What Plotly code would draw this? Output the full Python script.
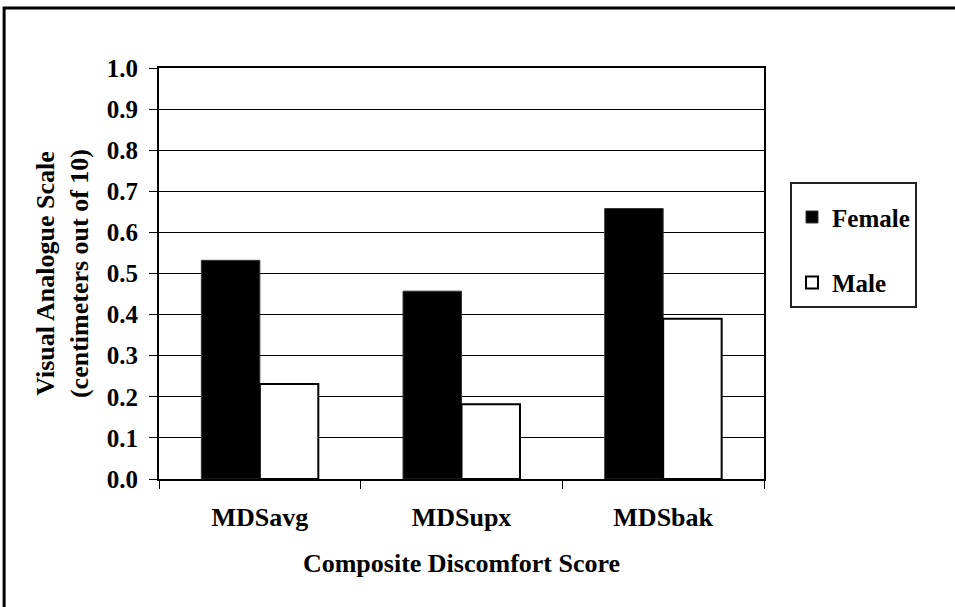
import plotly.graph_objects as go

categories = ["MDSavg", "MDSupx", "MDSbak"]
female = [0.532, 0.457, 0.658]
male = [0.231, 0.182, 0.390]
y_ticks = [0.0, 0.1, 0.2, 0.3, 0.4, 0.5, 0.6, 0.7, 0.8, 0.9, 1.0]

FONT = "Times New Roman, Liberation Serif, DejaVu Serif, serif"

fig = go.Figure()
fig.add_trace(go.Bar(x=categories, y=female, name="Female", legendgroup="f",
                     marker=dict(color="black", line=dict(color="#333", width=1))))
fig.add_trace(go.Bar(x=categories, y=male, name="Male", legendgroup="m",
                     marker=dict(color="white", line=dict(color="black", width=2))))

fig.update_layout(
    width=955, height=607,
    margin=dict(l=159, r=191, t=68, b=128),
    paper_bgcolor="white", plot_bgcolor="white",
    barmode="group", bargap=0.42, bargroupgap=0,
    font=dict(family=FONT, color="black", size=26, weight="bold"),
    showlegend=True,
    legend=dict(x=1.043, y=0.723, xanchor="left", yanchor="top",
                bordercolor="#222", borderwidth=2, bgcolor="white",
                font=dict(family=FONT, size=25, weight="bold", color="black"),
                title=dict(text=" ", font=dict(size=8)),
                tracegroupgap=30, itemwidth=30),
    shapes=[dict(type="rect", xref="paper", yref="paper",
                 x0=-0.256, x1=2, y0=1.146, y1=-1,
                 line=dict(color="black", width=3), fillcolor="rgba(0,0,0,0)")],
)

fig.update_yaxes(range=[0, 1.0], tickvals=y_ticks,
                 ticktext=[f"{v:.1f}" for v in y_ticks],
                 showgrid=True, gridcolor="black", gridwidth=1,
                 showline=True, linecolor="black", linewidth=2, mirror=True,
                 ticks="outside", ticklen=8, tickcolor="black", tickwidth=1,
                 tickfont=dict(family=FONT, size=25, weight="bold"),
                 ticklabelstandoff=6, zeroline=False,
                 title=dict(text="Visual Analogue Scale<br>(centimeters out of 10)",
                            font=dict(family=FONT, size=26, weight="bold"),
                            standoff=11))

fig.update_xaxes(showline=True, linecolor="black", linewidth=2, mirror=True,
                 ticks="outside", ticklen=8, tickcolor="black", tickwidth=1,
                 tickson="boundaries",
                 tickfont=dict(family=FONT, size=26, weight="bold"),
                 ticklabelstandoff=14,
                 title=dict(text="Composite Discomfort Score",
                            font=dict(family=FONT, size=26, weight="bold"),
                            standoff=23))

fig.write_html("out.html", config={"displayModeBar": False},
               post_script="document.body.style.margin='0px';")
